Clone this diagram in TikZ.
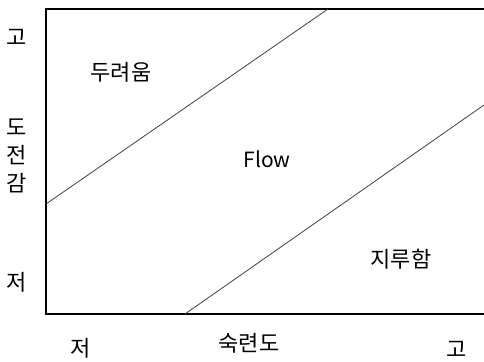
\documentclass[tikz,border=0pt]{standalone}
\usepackage{fontspec}
\setmainfont{Noto Sans CJK KR}
\begin{document}
\begin{tikzpicture}[x=1pt,y=-1pt,
  lbl/.style={font=\fontsize{22}{26}\selectfont, inner sep=0pt, anchor=center},
  frame/.style={draw=black, line width=1.2pt},
  zone/.style={draw=black!75, line width=0.8pt}]
\useasboundingbox (0,0) rectangle (484,361);
% frame
\coordinate (tl) at (46,9);
\coordinate (tr) at (486,9);
\coordinate (bl) at (46,314);
\coordinate (br) at (486,314);
\draw[frame] (tr) -- (tl) -- (bl) -- (br);
% zone boundaries
\coordinate (a1) at (46,204);
\coordinate (a2) at (328,9);
\coordinate (b1) at (185,314);
\coordinate (b2) at (484,105);
\draw[zone] (a1) -- (a2);
\draw[zone] (b1) -- (b2);
% labels
\node[lbl] (fear) at (121,72) {두려움};
\node[lbl, font=\fontsize{21}{25}\selectfont] (flow) at (267,159) {Flow};
\node[lbl] (bore) at (401,259) {지루함};
\node[lbl] (yhi) at (17,37) {고};
\node[lbl] (y1) at (17,127) {도};
\node[lbl] (y2) at (17,155) {전};
\node[lbl] (y3) at (17,183) {감};
\node[lbl] (ylo) at (17,282) {저};
\node[lbl] (xlo) at (81,348) {저};
\node[lbl] (xl) at (249,343) {숙련도};
\node[lbl] (xhi) at (457,349) {고};
\end{tikzpicture}
\end{document}
